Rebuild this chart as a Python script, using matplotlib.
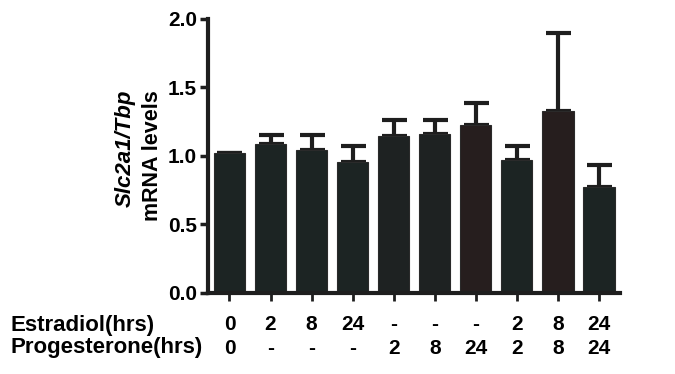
import matplotlib
matplotlib.use("Agg")
import matplotlib.pyplot as plt
import numpy as np

plt.rcParams['font.family'] = ['Liberation Sans', 'DejaVu Sans']

means = [1.02, 1.09, 1.04, 0.955, 1.145, 1.16, 1.225, 0.97, 1.33, 0.775]
upper = [1.02, 1.155, 1.155, 1.07, 1.26, 1.265, 1.39, 1.07, 1.895, 0.935]
estradiol = ['0', '2', '8', '24', '-', '-', '-', '2', '8', '24']
progesterone = ['0', '-', '-', '-', '2', '8', '24', '2', '8', '24']
bar_colors = ['#1c2423', '#1c2423', '#1c2423', '#1c2423', '#1e2222',
              '#1e2222', '#261e1e', '#1c2423', '#261e1e', '#1c2423']
yticks = [0.0, 0.5, 1.0, 1.5, 2.0]

fig = plt.figure(figsize=(6.75, 3.74), dpi=100)
ax = fig.add_axes([0.308, 0.2166, 0.611, 0.7327])

x = np.arange(len(means))
err = np.array(upper) - np.array(means)
ax.bar(x, means, width=0.76, color=bar_colors, edgecolor='#2a2a2a', linewidth=0.8, zorder=2)
ax.errorbar(x, means, yerr=[np.zeros_like(err), err], fmt='none', ecolor='#1e1e1e',
            elinewidth=3, capsize=9, capthick=3, zorder=1)

ax.set_xlim(-0.525, 9.52)
ax.set_ylim(0, 2.0)
ax.set_yticks(yticks)
ax.set_yticklabels([f'{v:.1f}' for v in yticks], fontsize=15, fontweight='bold')
ax.set_xticks(x)
ax.set_xticklabels([])
for s in ['top', 'right']:
    ax.spines[s].set_visible(False)
for s in ['left', 'bottom']:
    ax.spines[s].set_linewidth(3)
    ax.spines[s].set_color('#1e1e1e')
ax.tick_params(axis='y', width=2.5, length=6, color='#1e1e1e', pad=2)
ax.tick_params(axis='x', width=2, length=6, color='#1e1e1e')

fig.text(125/675, 1-148/374, 'Slc2a1/Tbp', rotation=90, ha='center', va='center',
         fontsize=16, fontweight='bold', fontstyle='italic')
fig.text(153/675, 1-156/374, 'mRNA levels', rotation=90, ha='center', va='center',
         fontsize=15.5, fontweight='bold')

for i in range(len(means)):
    xd = ax.transData.transform((i, 0))[0] / fig.dpi / 6.75
    fig.text(xd, 1-325/374, estradiol[i], ha='center', va='center', fontsize=15, fontweight='bold')
    fig.text(xd, 1-348/374, progesterone[i], ha='center', va='center', fontsize=15, fontweight='bold')
fig.text(11/675, 1-325/374, 'Estradiol(hrs)', ha='left', va='center', fontsize=16, fontweight='bold')
fig.text(11/675, 1-348/374, 'Progesterone(hrs)', ha='left', va='center', fontsize=16, fontweight='bold')

fig.savefig('out.png', dpi=100)
